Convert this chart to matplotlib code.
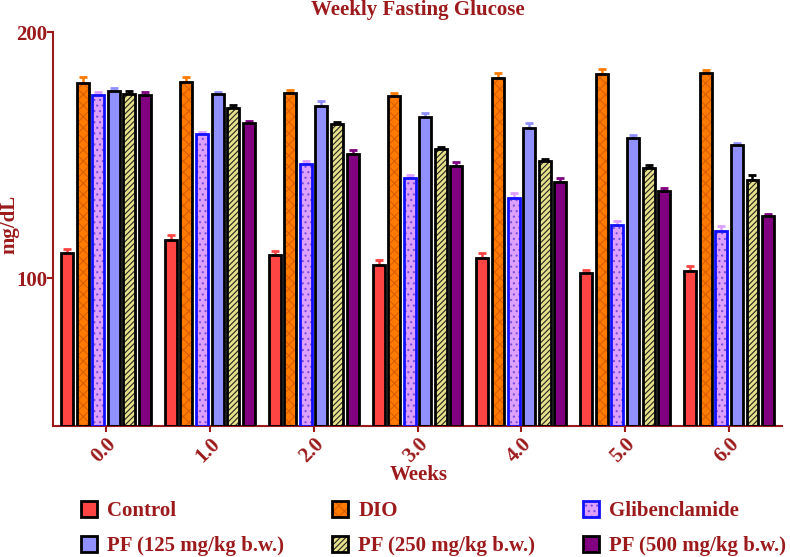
import numpy as np
import matplotlib
matplotlib.use("Agg")
import matplotlib.pyplot as plt
from matplotlib.legend_handler import HandlerTuple

plt.rcParams['font.family'] = ['Liberation Serif', 'DejaVu Serif']
plt.rcParams['font.weight'] = 'bold'
plt.rcParams['hatch.linewidth'] = 0.8

weeks = ["0.0", "1.0", "2.0", "3.0", "4.0", "5.0", "6.0"]
groups = ["Control", "DIO", "Glibenclamide",
          "PF (125 mg/kg b.w.)", "PF (250 mg/kg b.w.)", "PF (500 mg/kg b.w.)"]

control = [110.3, 115.4, 109.4, 105.5, 108.4, 102.0, 103.0]
dio = [179.5, 179.9, 175.4, 174.1, 181.2, 182.9, 183.5]
glib = [174.4, 158.4, 146.6, 140.6, 132.7, 121.6, 119.2]
pf125 = [176.2, 174.9, 169.8, 165.3, 160.9, 157.0, 154.1]
pf250 = [174.9, 169.2, 162.5, 152.5, 147.6, 144.8, 140.0]
pf500 = [174.4, 163.0, 150.5, 145.5, 139.1, 135.5, 125.2]

err_control = [1.8, 2.0, 1.8, 1.8, 2.0, 1.5, 2.0]
err_dio = [2.4, 2.0, 1.0, 1.0, 2.0, 2.0, 1.0]
err_glib = [1.2, 1.2, 1.0, 1.5, 2.0, 1.8, 2.0]
err_pf125 = [1.2, 0.8, 2.0, 2.0, 2.2, 1.0, 1.0]
err_pf250 = [1.2, 1.0, 1.0, 1.0, 1.0, 1.2, 2.0]
err_pf500 = [1.2, 0.8, 1.8, 1.8, 1.5, 1.0, 1.0]

series = [control, dio, glib, pf125, pf250, pf500]
errors = [err_control, err_dio, err_glib, err_pf125, err_pf250, err_pf500]

# fill, hatch, hatch colour, edge colour, error colour
styles = [
    ("#FF4444", None, None, "black", "#FF4444"),
    ("#FF7A00", "xxx", "#D95F00", "black", "#FF7A00"),
    ("#DDA0FF", "...", "#7A50E0", "#1010FF", "#DDA0FF"),
    ("#9090FF", None, None, "black", "#9090FF"),
    ("#E6E08A", "//////", "#222222", "black", "black"),
    ("#800080", None, None, "black", "#800080"),
]

red = "#9C1A1C"

fig = plt.figure(figsize=(7.9, 5.57), dpi=100)
ax = fig.add_axes([0.067, 0.235, 0.923, 0.7075])

x = np.arange(len(weeks))
step = 0.15
width = 0.115
handles = []
for i, (vals, errs, st) in enumerate(zip(series, errors, styles)):
    fc, hatch, hc, ec, errc = st
    pos = x + (i - 2.5) * step
    ax.errorbar(pos, vals, yerr=[np.zeros(len(errs)), errs], fmt='none',
                ecolor=errc, elinewidth=1.8, capsize=3, capthick=2, zorder=1)
    if hatch:
        b1 = ax.bar(pos, np.array(vals) - 40, width, bottom=40, color=fc,
                    hatch=hatch, edgecolor=hc, linewidth=0, zorder=2)
    else:
        b1 = ax.bar(pos, np.array(vals) - 40, width, bottom=40, color=fc,
                    linewidth=0, zorder=2)
    b2 = ax.bar(pos, np.array(vals) - 40, width, bottom=40, fill=False,
                edgecolor=ec, linewidth=2.0, zorder=3)
    handles.append((b1[0], b2[0]))

ax.set_xlim(-0.51, 6.51)
ax.set_ylim(40, 200)
ax.set_yticks([100, 200])
ax.set_xticks(x)
ax.set_xticklabels(weeks, rotation=45, ha='right', va='top',
                   rotation_mode='anchor')
ax.tick_params(colors=red, labelsize=15, width=1.5, length=4, pad=2)
ax.tick_params(axis='y', pad=0)
for lab in ax.get_xticklabels() + ax.get_yticklabels():
    lab.set_fontweight('bold')
for s in ['top', 'right']:
    ax.spines[s].set_visible(False)
for s in ['left', 'bottom']:
    ax.spines[s].set_color(red)
    ax.spines[s].set_linewidth(1.5)

ax.set_title("Weekly Fasting Glucose", color=red, fontsize=15,
             fontweight='bold', pad=12)
ax.set_ylabel("mg/dL", color=red, fontsize=15, fontweight='bold')
ax.yaxis.set_label_coords(-0.046, 0.513)
ax.set_xlabel("Weeks", color=red, fontsize=15, fontweight='bold')
ax.xaxis.set_label_coords(0.501, -0.098)

order = [0, 3, 1, 4, 2, 5]
leg = fig.legend([handles[k] for k in order], [groups[k] for k in order],
                 ncol=3, loc='upper left', bbox_to_anchor=(0.103, 0.10),
                 frameon=False, fontsize=15, handlelength=0.75,
                 handleheight=0.75, columnspacing=2.3, labelspacing=0.72,
                 handletextpad=0.5, borderaxespad=0, borderpad=0,
                 handler_map={tuple: HandlerTuple(ndivide=1, pad=0)})
for t in leg.get_texts():
    t.set_color(red)
    t.set_fontweight('bold')

fig.savefig("out.png", dpi=100)
